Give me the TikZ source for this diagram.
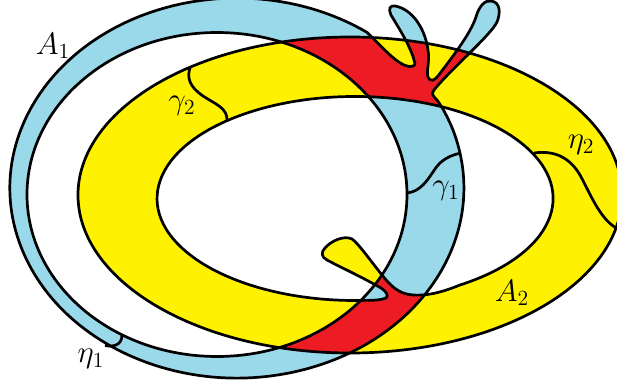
\documentclass[tikz,border=0pt]{standalone}
\usepackage{tikz}
\definecolor{ringblue}{RGB}{153,217,234}
\definecolor{ringyellow}{RGB}{255,242,0}
\definecolor{ringred}{RGB}{237,28,36}
\tikzset{
  edgeline/.style={black, line width=1.35pt},
  ringlabel/.style={font=\LARGE, scale=0.9, inner sep=0pt},
}
% annulus with the fingers on its outer boundary
\newcommand{\ringone}{
  (453,130) arc[start angle=-17.8, end angle=305, x radius=227, y radius=190]
  .. controls (385,50) and (398,65) .. (409,66.5)
  .. controls (415,67) and (416,64) .. (414,60)
  .. controls (410,45) and (398,27) .. (391,15)
  .. controls (388,9) and (390,5) .. (395,6)
  .. controls (412,9) and (425,28) .. (428,50)
  .. controls (430,62) and (426,72) .. (428,77)
  .. controls (430,82) and (434,81) .. (438,76)
  .. controls (450,60) and (470,35) .. (476,17)
  .. controls (479,6) and (485,0) .. (491,1)
  .. controls (500,2) and (501,12) .. (497,22)
  .. controls (491,35) and (450,70) .. (434,90)
  .. controls (431,94) and (433,96) .. (437,100)
  .. controls (443,108) and (449,120) .. (453,130) -- cycle
  (407,194.5) arc[start angle=0, end angle=360, x radius=190, y radius=162] -- cycle
}
% annulus with the tongue on its inner boundary
\newcommand{\ringtwo}{
  (350,195) ellipse[x radius=272, y radius=158]
  (460,285) arc[start angle=58, end angle=-273, x radius=198, y radius=102]
  .. controls (372,300.5) and (382,300) .. (386,298)
  .. controls (389,296) and (386,291) .. (381,288)
  .. controls (360,276) and (340,267) .. (327,260)
  .. controls (321,257) and (321,252) .. (325,248)
  .. controls (331,241) and (344,235) .. (352,239)
  .. controls (358,243) and (370,260) .. (382,275)
  .. controls (390,285) and (398,294) .. (413,295)
  .. controls (430,296) and (445,291) .. (460,285) -- cycle
}
\begin{document}
\begin{tikzpicture}[x=0.5pt, y=-0.5pt]
  \clip (0,0) rectangle (617,385);
  % Fills
  \fill[ringblue, even odd rule] \ringone;
  \fill[ringyellow, even odd rule] \ringtwo;
  \begin{scope}[even odd rule]
    \clip \ringone;
    \fill[ringred] \ringtwo;
  \end{scope}
  % Outlines
  \draw[edgeline] \ringone;
  \draw[edgeline] \ringtwo;
  % Cuts
  \draw[edgeline] (190.5,66.5) .. controls (186,78) and (190,87) .. (203,96)
    .. controls (215,104) and (228,108) .. (227,121);
  \draw[edgeline] (406,193) .. controls (425,192) and (432,170) .. (440,163)
    .. controls (447,157) and (452,155) .. (461,153);
  \draw[edgeline] (105,345.5) .. controls (112,347) and (122,346) .. (122,335);
  \draw[edgeline] (534,153) .. controls (555,150) and (570,158) .. (580,175)
    .. controls (590,193) and (600,220) .. (618,229);
  % Labels
  \node[ringlabel] (labelAone) at (53,46) {$A_1$};
  \node[ringlabel] (labelAtwo) at (512,293) {$A_2$};
  \node[ringlabel] (labelgone) at (446,191) {$\gamma_1$};
  \node[ringlabel] (labelgtwo) at (182,106) {$\gamma_2$};
  \node[ringlabel] (labeleone) at (91,359) {$\eta_1$};
  \node[ringlabel] (labeletwo) at (581,145) {$\eta_2$};
\end{tikzpicture}
\end{document}
